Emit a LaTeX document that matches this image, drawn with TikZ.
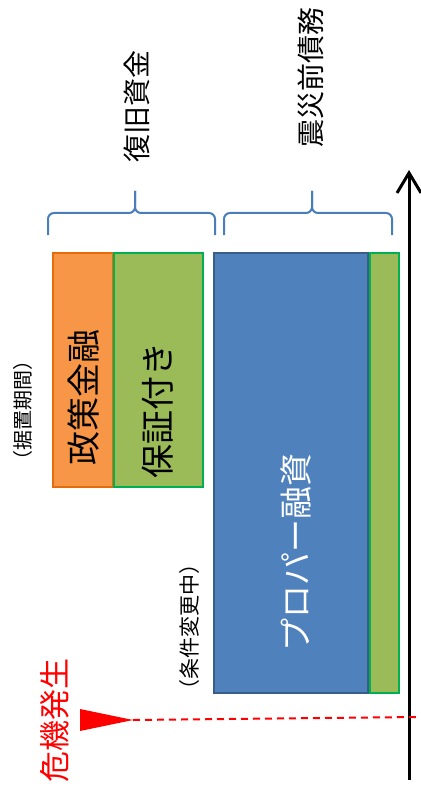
\documentclass[tikz,border=0pt]{standalone}
\usepackage{fontspec}
\setmainfont{Noto Sans CJK JP}
\usetikzlibrary{arrows.meta}
\definecolor{orfill}{HTML}{F79646}
\definecolor{ordraw}{HTML}{E46C0A}
\definecolor{grfill}{HTML}{9BBB59}
\definecolor{grdraw}{HTML}{00B050}
\definecolor{blfill}{HTML}{4F81BD}
\definecolor{bldraw}{HTML}{385D8A}
\definecolor{brcol}{HTML}{4A7EBB}
\begin{document}
\begin{tikzpicture}[x=1pt,y=-1pt,
  box/.style={draw, line width=2.5pt, inner sep=0pt, minimum width=#1},
  lbl/.style={rotate=90, inner sep=0pt, anchor=center},
  bracestyle/.style={draw=brcol, line width=2pt, rounded corners=6pt}]
\useasboundingbox (0,0) rectangle (420,794);
% boxes
\node[box=60pt, minimum height=234pt, fill=orfill, draw=ordraw] (seisaku) at (83,370) {};
\node[box=89pt, minimum height=234pt, fill=grfill, draw=grdraw] (hosho) at (158.5,370) {};
\node[box=154pt, minimum height=440pt, fill=blfill, draw=bldraw] (proper) at (291,473) {};
\node[box=29pt, minimum height=440pt, fill=grfill, draw=grdraw] (thin) at (384.5,473) {};
% labels
\node[lbl, font=\fontsize{34}{34}\selectfont] (t1) at (84,397) {政策金融};
\node[lbl, font=\fontsize{34}{34}\selectfont] (t2) at (158,410) {保証付き};
\node[lbl, font=\fontsize{33}{33}\selectfont, text=white] (t3) at (296,552) {プロパー融資};
\node[lbl, font=\fontsize{20}{20}\selectfont] (t4) at (23,410) {（据置期間）};
\node[lbl, font=\fontsize{21}{21}\selectfont] (t5) at (190,627) {（条件変更中）};
\node[lbl, font=\fontsize{28}{28}\selectfont] (t6) at (137,107) {復旧資金};
\node[lbl, font=\fontsize{28}{28}\selectfont] (t7) at (311,78) {震災前債務};
\node[lbl, font=\fontsize{31}{31}\selectfont, text=red] (t8) at (55,720) {危機発生};
% braces
\draw[bracestyle] (48,235) -- (48,213) -- (135,213) -- (135,191);
\draw[bracestyle] (215,235) -- (215,213) -- (135,213) -- (135,191);
\draw[bracestyle] (224,235) -- (224,213) -- (312,213) -- (312,191);
\draw[bracestyle] (392,235) -- (392,213) -- (312,213) -- (312,191);
% axis arrow
\coordinate (abot) at (409,780);
\coordinate (atop) at (409,170);
\draw[line width=3pt, -{Straight Barb[length=20pt,width=24pt]}] (abot) -- (atop);
% crisis marker
\coordinate (tipc) at (133,720);
\coordinate (dend) at (420,717);
\fill[red] (80,709) -- (tipc) -- (80,731) -- cycle;
\draw[red, line width=2pt, dash pattern=on 7pt off 5pt] (tipc) -- (dend);
\end{tikzpicture}
\end{document}
